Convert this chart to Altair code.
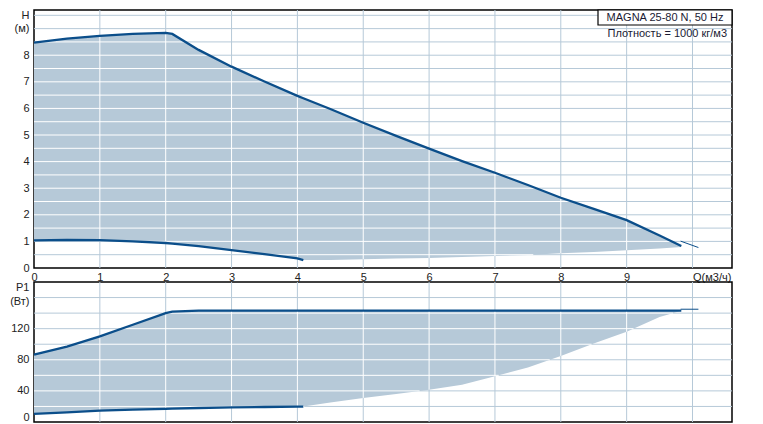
import altair as alt
import numpy as np
import pandas as pd

# ---- data ----
Q = [0, 0.5, 1, 1.5, 2, 2.1, 2.5, 3, 3.5, 4, 4.09, 4.5, 5, 5.5, 6, 6.5, 7, 7.5, 8, 8.5, 9, 9.5, 9.83]
H_MAX = [8.47, 8.62, 8.73, 8.80, 8.84, 8.80, 8.20, 7.57, 7.01, 6.47, 6.38, 5.98, 5.46, 4.97, 4.49, 4.02,
         3.58, 3.12, 2.64, 2.22, 1.80, 1.22, 0.83]
H_MIN = [1.04, 1.06, 1.05, 1.00, 0.94, 0.92, 0.82, 0.67, 0.52, 0.36, 0.30, 0.30, 0.33, 0.36, 0.38, 0.41,
         0.45, 0.49, 0.55, 0.60, 0.67, 0.73, 0.79]
P_MAX = [86.6, 97, 110, 125, 140, 142, 143.3, 143.3, 143.3, 143.3, 143.3, 143.3, 143.3, 143.3, 143.3,
         143.3, 143.3, 143.3, 143.3, 143.3, 143.3, 143.3, 143.3]
P_MIN = [10.4, 12.5, 14.5, 16, 17, 17.2, 18, 18.8, 19.3, 19.7, 19.8, 25, 31, 36, 41.6, 48, 58.7, 70, 85,
         101, 116, 135, 143]
MIN_LINE_END = 4.09
EXT_Q = [9.82, 10.09]
EXT_H = [1.01, 0.77]
EXT_P = [145, 145]

X_TICKS = list(range(11))
X_GRID = list(range(1, 11))
H_GRID = [v / 2 for v in range(1, 20)]
P_GRID = list(range(20, 180, 20))
H_LABELS = [0, 1, 2, 3, 4, 5, 6, 7, 8, 9, 9.5]
P_LABELS = [0, 40, 80, 120, 155, 172.5]

TITLE = "MAGNA 25-80 N, 50 Hz"
DENSITY = "Плотность = 1000 кг/м3"

LINE = "#0b4e8a"
FILL = "#b6c9d8"
GRID = "#b6c9d8"
FONT = "Liberation Sans"

W = 698
H_TOP = 258
H_BOT = 140
X_DOMAIN = [0, 10.6]

df = pd.DataFrame({"Q": Q, "Hmax": H_MAX, "Hmin": H_MIN, "Pmax": P_MAX, "Pmin": P_MIN})
ext = pd.DataFrame({"Q": EXT_Q, "H": EXT_H, "P": EXT_P})


def inner_grid(lo, up, ygrid):
    qf = np.linspace(Q[0], Q[-1], 5000)
    upf = np.interp(qf, Q, up)
    lof = np.interp(qf, Q, lo)
    rows = []
    for g in X_GRID:
        if g < Q[-1]:
            rows.append(dict(x=g, x2=g, y=float(np.interp(g, Q, lo)), y2=float(np.interp(g, Q, up))))
    for h in ygrid:
        m = ((lof < h) & (upf > h)).astype(int)
        idx = np.flatnonzero(np.diff(np.concatenate([[0], m, [0]])))
        for s, e in zip(idx[::2], idx[1::2]):
            rows.append(dict(x=float(qf[s]), x2=float(qf[e - 1]), y=h, y2=h))
    return pd.DataFrame(rows)


def panel(ymax, ymin, extcol, ydomain, ygrid, height, yaxis, xaxis, extra=None):
    xs = alt.Scale(domain=X_DOMAIN, nice=False, zero=False)
    ys = alt.Scale(domain=ydomain, nice=False, zero=False)

    def X(f):
        return alt.X(f, scale=xs, axis=xaxis, title=None)

    def Y(f):
        return alt.Y(f, scale=ys, axis=yaxis, title=None)

    gx = alt.Chart(pd.DataFrame({"v": X_GRID})).mark_rule(color=GRID, strokeWidth=1).encode(x=X("v:Q"))
    gy = alt.Chart(pd.DataFrame({"v": ygrid})).mark_rule(color=GRID, strokeWidth=1).encode(y=Y("v:Q"))
    area = alt.Chart(df).mark_area(color=FILL, opacity=1).encode(
        x=X("Q:Q"), y=Y(f"{ymax}:Q"), y2=f"{ymin}:Q")
    white = alt.Chart(inner_grid(df[ymin].tolist(), df[ymax].tolist(), ygrid)).mark_rule(
        color="white", strokeWidth=1).encode(x=X("x:Q"), x2="x2:Q", y=Y("y:Q"), y2="y2:Q")
    upper = alt.Chart(df).mark_line(color=LINE, strokeWidth=2.3).encode(x=X("Q:Q"), y=Y(f"{ymax}:Q"))
    lower = alt.Chart(df).transform_filter(f"datum.Q <= {MIN_LINE_END}").mark_line(
        color=LINE, strokeWidth=2.3).encode(x=X("Q:Q"), y=Y(f"{ymin}:Q"))
    extl = alt.Chart(ext).mark_line(color=LINE, strokeWidth=1).encode(x=X("Q:Q"), y=Y(f"{extcol}:Q"))
    layers = [gx, gy, area, white, upper, lower, extl]
    if extra:
        layers += extra
    return alt.layer(*layers).properties(width=W, height=height)


common_y = dict(grid=False, ticks=False, domain=False, labelPadding=5, minExtent=24, maxExtent=24,
                labelOverlap=False, labelBound=False)

top_yaxis = alt.Axis(values=H_LABELS, labelFlush=False,
                     labelExpr="datum.value == 9.5 ? 'H' : (datum.value == 9 ? '(м)' : datum.label)",
                     **common_y)
bot_yaxis = alt.Axis(values=P_LABELS, labelFlush=True,
                     labelExpr="datum.value == 172.5 ? 'P1' : (datum.value == 155 ? '(Вт)' : datum.label)",
                     **common_y)
top_xaxis = alt.Axis(values=X_TICKS, grid=False, ticks=False, domain=False, labelFlush=False,
                     labelPadding=3, labelOverlap=False, labelBound=False,
                     labelAlign={"expr": "datum.value == 10 ? 'left' : 'center'"},
                     labelExpr="datum.value == 10 ? 'Q(м3/ч)' : datum.label")

box = alt.Chart(pd.DataFrame({"t": [TITLE]})).mark_rect(fill="white", stroke="black", strokeWidth=1.2).encode(
    x=alt.value(W - 134), x2=alt.value(W), y=alt.value(0), y2=alt.value(15))
box_text = alt.Chart(pd.DataFrame({"t": [TITLE]})).mark_text(
    font=FONT, fontSize=11, color="#1a1a33", align="center", baseline="middle").encode(
    x=alt.value(W - 67), y=alt.value(8), text="t:N")
dens_text = alt.Chart(pd.DataFrame({"t": [DENSITY]})).mark_text(
    font=FONT, fontSize=11, color="#1a1a33", align="right", baseline="middle").encode(
    x=alt.value(W - 5), y=alt.value(23.5), text="t:N")

top = panel("Hmax", "Hmin", "H", [0, 9.7], H_GRID, H_TOP, top_yaxis, top_xaxis,
            extra=[box, box_text, dens_text])
bottom = panel("Pmax", "Pmin", "P", [0, 180], P_GRID, H_BOT, bot_yaxis, None)

chart = alt.vconcat(top, bottom, spacing=14, bounds="flush").properties(
    padding={"left": 0, "top": 0, "right": 0, "bottom": 0}
).configure_view(stroke="black", strokeWidth=1.5).configure_axis(
    labelFont=FONT, labelFontSize=11, labelColor="#222222")

chart.save("out.html", embed_options={"renderer": "svg", "actions": False})
